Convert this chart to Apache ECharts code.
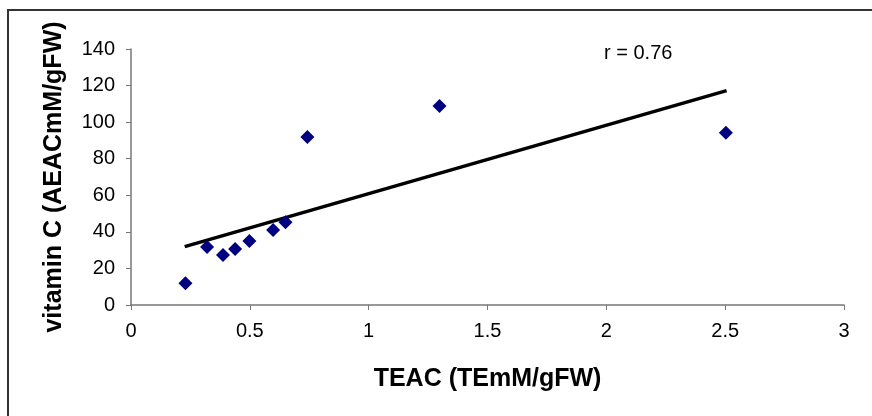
<!DOCTYPE html>
<html>
<head>
<meta charset="utf-8">
<script src="https://cdn.jsdelivr.net/npm/echarts@6/dist/echarts.min.js"></script>
<style>
html,body{margin:0;padding:0;background:#fff;}
#c{width:872px;height:416px;}
</style>
</head>
<body>
<div id="c"></div>
<script>
var teac = [0.229, 0.32, 0.387, 0.438, 0.498, 0.598, 0.65, 0.742, 1.298, 2.503];
var vitC = [11.9, 31.7, 27.3, 30.6, 35.0, 41.0, 45.2, 91.9, 108.8, 94.2];
var trendX = [0.226, 2.506];
var trendY = [31.9, 117.2];
var xTicks = [0, 0.5, 1, 1.5, 2, 2.5, 3];
var yTicks = [0, 20, 40, 60, 80, 100, 120, 140];
var annotation = 'r = 0.76';
var xTitle = 'TEAC (TEmM/gFW)';
var yTitle = 'vitamin C (AEACmM/gFW)';

var font = 'Liberation Sans, Arial, sans-serif';
var chart = echarts.init(document.getElementById('c'));
chart.setOption({
  backgroundColor: '#fff',
  animation: false,
  grid: {left: 131, right: 28, top: 49, bottom: 111},
  xAxis: {
    type: 'value', min: xTicks[0], max: xTicks[xTicks.length - 1], interval: 0.5,
    name: xTitle, nameLocation: 'middle', nameGap: 62,
    nameTextStyle: {fontFamily: font, fontSize: 25, fontWeight: 'bold', color: '#000'},
    axisLine: {show: true, lineStyle: {color: '#777', width: 1.5}},
    axisTick: {show: true, length: 5, lineStyle: {color: '#777'}},
    axisLabel: {fontFamily: font, fontSize: 20, color: '#000', margin: 16},
    splitLine: {show: false}
  },
  yAxis: {
    type: 'value', min: yTicks[0], max: yTicks[yTicks.length - 1], interval: 20,
    name: yTitle, nameLocation: 'middle', nameGap: 64,
    nameTextStyle: {fontFamily: font, fontSize: 25, fontWeight: 'bold', color: '#000'},
    axisLine: {show: true, lineStyle: {color: '#777', width: 1.5}},
    axisTick: {show: true, length: 5, lineStyle: {color: '#777'}},
    axisLabel: {fontFamily: font, fontSize: 20, color: '#000', margin: 16},
    splitLine: {show: false}
  },
  series: [
    {
      type: 'line',
      data: trendX.map(function (x, i) { return [x, trendY[i]]; }),
      showSymbol: false, symbol: 'none',
      lineStyle: {color: '#000', width: 3.5},
      z: 2
    },
    {
      type: 'scatter',
      data: teac.map(function (x, i) { return [x, vitC[i]]; }),
      symbol: 'diamond', symbolSize: 14,
      itemStyle: {color: '#000080', opacity: 1},
      z: 3
    }
  ],
  graphic: [
    {
      type: 'rect', silent: true, z: 0,
      shape: {x: 8, y: 10, width: 1000, height: 1000},
      style: {fill: 'none', stroke: '#333', lineWidth: 2}
    },
    {
      type: 'text', silent: true, x: 604, y: 53,
      style: {text: annotation, font: '20px ' + font, fill: '#000', verticalAlign: 'middle', align: 'left'}
    }
  ]
});
</script>
</body>
</html>
